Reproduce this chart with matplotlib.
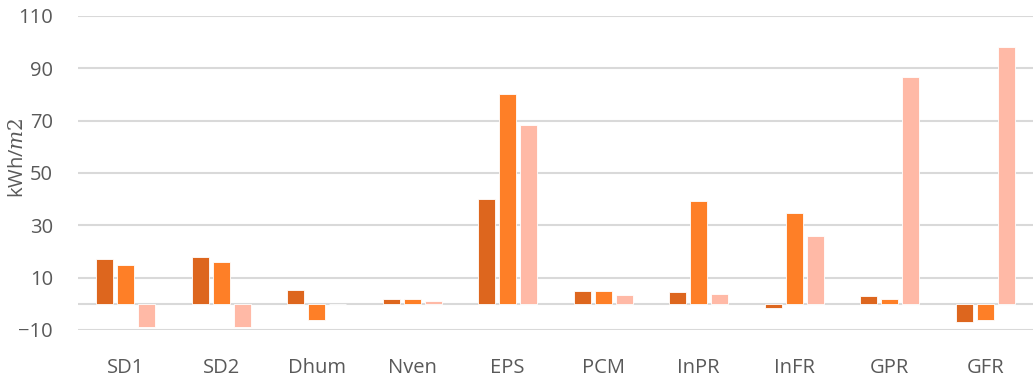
import matplotlib.pyplot as plt
import numpy as np

# categories and series values
cats = ['SD1', 'SD2', 'Dhum', 'Nven', 'EPS', 'PCM', 'InPR', 'InFR', 'GPR', 'GFR']
s1 = [17, 18, 5.3, 1.7, 40, 5, 4.5, -1.5, 2.8, -7]
s2 = [15, 16, -6, 1.9, 80.3, 5, 39.3, 34.8, 2, -6]
s3 = [-9, -9, 0, 1, 68.5, 3.2, 3.7, 26, 86.8, 98]

colors = ['#DD661E', '#FE7F27', '#FFB9A6']

plt.rcParams['font.family'] = ['Open Sans', 'DejaVu Sans']
plt.rcParams['mathtext.fontset'] = 'dejavuserif'

fig = plt.figure(figsize=(10.33, 3.8), dpi=100)
ax = fig.add_axes([0.0755, 0.1316, 0.9245, 0.8264])

x = np.arange(len(cats))
w = 0.178
step = 0.22
for i, (vals, c) in enumerate(zip([s1, s2, s3], colors)):
    ax.bar(x + (i - 1) * step, vals, w, color=c, edgecolor='white', linewidth=0.6, zorder=3)

ax.set_xlim(-0.5, len(cats) - 0.5)
ax.set_ylim(-10, 110)
ax.set_yticks(np.arange(-10, 111, 20))
ax.grid(axis='y', color='#D9D9D9', linewidth=1.5, zorder=0)
ax.axhline(0, color='#D9D9D9', linewidth=1.5, zorder=1)
for s in ax.spines.values():
    s.set_visible(False)

ax.set_xticks(x)
ax.set_xticklabels(cats)
ax.tick_params(axis='x', length=0, pad=20, labelsize=14.5, colors='#595959')
ax.tick_params(axis='y', length=0, pad=18, labelsize=14.5, colors='#595959')
ax.set_ylabel('kWh/$m2$', fontsize=14.5, color='#595959', va='center')
ax.yaxis.set_label_coords(-0.063, 0.55)

plt.savefig('out.png', dpi=100)
